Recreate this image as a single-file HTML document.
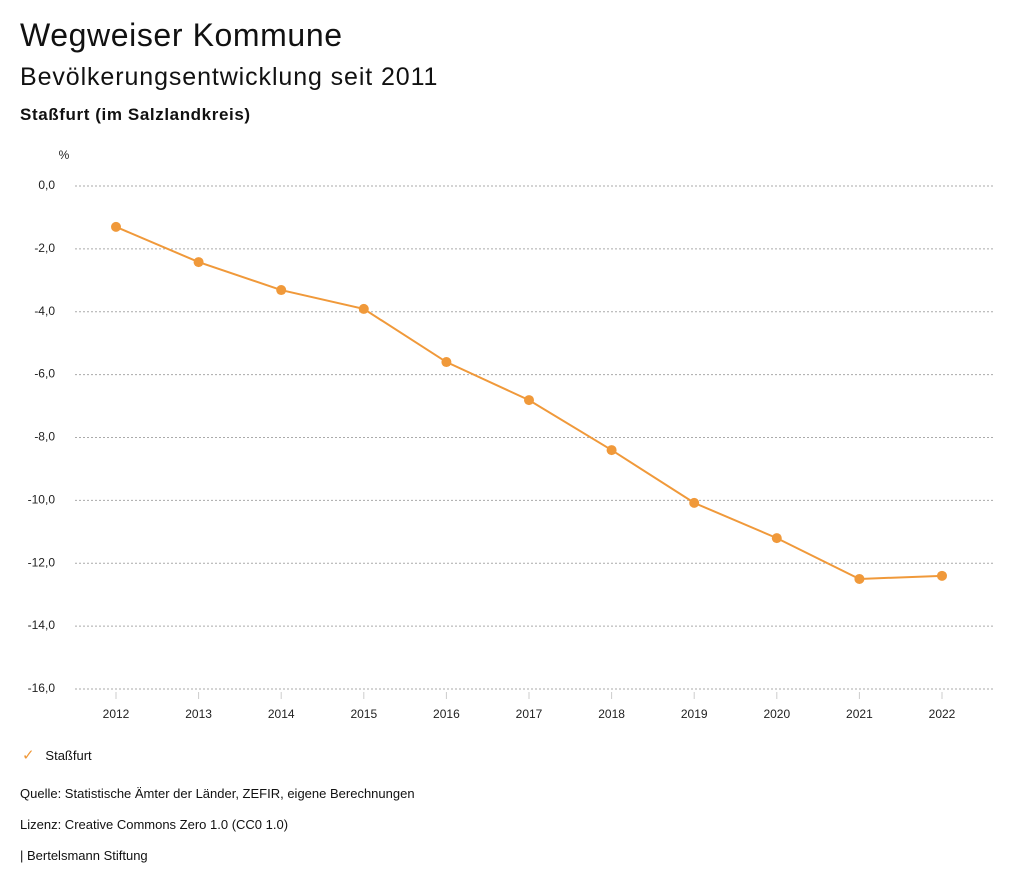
<!DOCTYPE html>
<html><head><meta charset="utf-8"><style>
body{margin:0;width:1024px;height:888px;background:#fff;font-family:"Liberation Sans",sans-serif;color:#111;position:relative;overflow:hidden}
.t{position:absolute;left:20px;white-space:nowrap}
</style></head><body>
<div class="t" style="top:17px;font-size:32px;letter-spacing:0.6px">Wegweiser Kommune</div>
<div class="t" style="top:63px;font-size:25px;letter-spacing:0.9px">Bevölkerungsentwicklung seit 2011</div>
<div class="t" style="top:105px;font-size:17px;font-weight:bold;letter-spacing:0.6px">Staßfurt (im Salzlandkreis)</div>
<svg id="chart" width="1024" height="888" style="position:absolute;left:0;top:0" xmlns="http://www.w3.org/2000/svg"></svg>
<div class="t" style="top:746px;left:22px;font-size:13px"><span style="color:#f0993a;font-size:15px">&#10003;</span>&nbsp;&nbsp;&nbsp;Staßfurt</div>
<div class="t" style="top:786px;font-size:13px">Quelle: Statistische Ämter der Länder, ZEFIR, eigene Berechnungen</div>
<div class="t" style="top:817px;font-size:13px">Lizenz: Creative Commons Zero 1.0 (CC0 1.0)</div>
<div class="t" style="top:848px;font-size:13px">| Bertelsmann Stiftung</div>
<script>
const years=[2012,2013,2014,2015,2016,2017,2018,2019,2020,2021,2022];
const values=[-1.3,-2.42,-3.31,-3.91,-5.6,-6.81,-8.4,-10.08,-11.2,-12.5,-12.4];
const yTicks=[0,-2,-4,-6,-8,-10,-12,-14,-16];
const ns="http://www.w3.org/2000/svg";
const svg=document.getElementById('chart');
const y=v=>186+(0-v)/16*503;
const x=i=>116+i*82.6;
function mk(t,a){const e=document.createElementNS(ns,t);for(const k in a)e.setAttribute(k,a[k]);svg.appendChild(e);return e;}
const u=mk('text',{x:64,y:159,'font-size':12,'text-anchor':'middle',fill:'#222'});u.textContent='%';


yTicks.forEach(v=>{
 const l=mk('line',{x1:75,x2:993,y1:y(v),y2:y(v),stroke:'#aaa','stroke-dasharray':'2,2','stroke-width':1});
 
 
 const t=mk('text',{x:55,y:y(v)+3,'font-size':12,'text-anchor':'end',fill:'#222'});
 t.textContent=v.toFixed(1).replace('.',',');
 
 
});
years.forEach((yr,i)=>{
 const l=mk('line',{x1:x(i),x2:x(i),y1:y(-16)+3,y2:y(-16)+10,stroke:'#ccc'});
 
 
 const t=mk('text',{x:x(i),y:718,'font-size':12,'text-anchor':'middle',fill:'#222'});
 t.textContent=yr;
 
 
});
const p=mk('polyline',{points:values.map((v,i)=>x(i)+','+y(v)).join(' '),fill:'none',stroke:'#f0993a','stroke-width':2});


values.forEach((v,i)=>{
 const c=mk('circle',{cx:x(i),cy:y(v),r:5,fill:'#f0993a'});
 
 
});
</script>
</body></html>
